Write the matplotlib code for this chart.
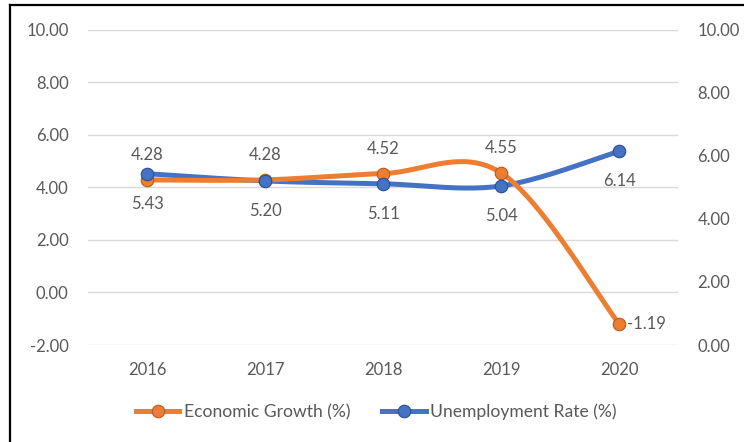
import numpy as np
import matplotlib
matplotlib.use("Agg")
import matplotlib.pyplot as plt
from matplotlib.lines import Line2D

years = ["2016", "2017", "2018", "2019", "2020"]
growth = [4.28, 4.28, 4.52, 4.55, -1.19]
unemployment = [5.43, 5.20, 5.11, 5.04, 6.14]
left_ticks = [-2, 0, 2, 4, 6, 8, 10]
right_ticks = [0, 2, 4, 6, 8, 10]

ORANGE = "#ED7D31"
BLUE = "#4472C4"
GRAY = "#595959"
plt.rcParams["font.family"] = ["Lato", "DejaVu Sans"]


def smooth(xs, ys, n=40):
    xs = np.asarray(xs, float)
    ys = np.asarray(ys, float)
    pts = np.column_stack([xs, ys])
    out = []
    for i in range(len(pts) - 1):
        p0 = pts[i - 1] if i > 0 else pts[i]
        p1 = pts[i]
        p2 = pts[i + 1]
        p3 = pts[i + 2] if i + 2 < len(pts) else pts[i + 1]
        c1 = p1 + (p2 - p0) / 6.0
        c2 = p2 - (p3 - p1) / 6.0
        t = np.linspace(0, 1, n)[:, None]
        seg = ((1 - t) ** 3) * p1 + 3 * ((1 - t) ** 2) * t * c1 + 3 * (1 - t) * t ** 2 * c2 + t ** 3 * p2
        out.append(seg if i == 0 else seg[1:])
    s = np.vstack(out)
    return s[:, 0], s[:, 1]


fig = plt.figure(figsize=(7.44, 4.42), dpi=100)
ax = fig.add_axes([88 / 744, 1 - 345 / 442, (678 - 88) / 744, (345 - 29.5) / 442])
ax2 = ax.twinx()

x = np.arange(len(years))
ax.set_xlim(-0.5, len(years) - 0.5)
ax.set_ylim(-2, 10)
ax2.set_ylim(0, 10)

ax.set_yticks(left_ticks)
ax.set_yticklabels([f"{v:.2f}" for v in left_ticks])
ax2.set_yticks(right_ticks)
ax2.set_yticklabels([f"{v:.2f}" for v in right_ticks])
ax.set_xticks(x)
ax.set_xticklabels(years)

ax.grid(axis="y", color="#D9D9D9", linewidth=1.0)
ax.set_axisbelow(True)
for a in (ax, ax2):
    for s in a.spines.values():
        s.set_visible(False)
ax.tick_params(axis="y", length=0, pad=14, labelsize=12, labelcolor=GRAY)
ax.tick_params(axis="x", length=0, pad=12, labelsize=12, labelcolor=GRAY)
ax2.tick_params(axis="y", length=0, pad=14, labelsize=12, labelcolor=GRAY)

lw = 3.6
ms = 9.0
# lines
bx, by = smooth(x, unemployment)
ax2.plot(bx, by, color=BLUE, lw=lw, solid_capstyle="round", zorder=2)
ox, oy = smooth(x, growth)
ax2.plot(ox, oy, color=ORANGE, lw=lw, solid_capstyle="round", zorder=3, transform=ax.transData)
# markers (orange under blue)
ax2.plot(x, growth, ls="none", marker="o", ms=ms, mfc=ORANGE, mec="#B85A1A", mew=0.8,
         zorder=4, transform=ax.transData)
ax2.plot(x, unemployment, ls="none", marker="o", ms=ms, mfc=BLUE, mec="#2A4E94", mew=0.8, zorder=5)

# data labels
for i, v in enumerate(growth):
    if v < 0:
        ax.annotate(f"{v:.2f}", (x[i], v), xytext=(6, 0), textcoords="offset points",
                    ha="left", va="center", fontsize=12, color=GRAY)
    else:
        ax.annotate(f"{v:.2f}", (x[i], v), xytext=(0, 18), textcoords="offset points",
                    ha="center", va="center", fontsize=12, color=GRAY)
for i, v in enumerate(unemployment):
    ax2.annotate(f"{v:.2f}", (x[i], v), xytext=(0, -21.5), textcoords="offset points",
                 ha="center", va="center", fontsize=12, color=GRAY)

# legend
h1 = Line2D([], [], color=ORANGE, lw=lw, marker="o", ms=ms, mfc=ORANGE, mec="#B85A1A", mew=0.8)
h2 = Line2D([], [], color=BLUE, lw=lw, marker="o", ms=ms, mfc=BLUE, mec="#2A4E94", mew=0.8)
fig.legend([h1, h2], ["Economic Growth (%)", "Unemployment Rate (%)"], loc="center",
           bbox_to_anchor=(376 / 744, 1 - 412 / 442), ncol=2, frameon=False,
           handlelength=2.5, handletextpad=0.25, columnspacing=1.8,
           prop={"size": 12.6}, labelcolor=GRAY)

# outer frame (top and left edges)
fig.add_artist(Line2D([10 / 744, 10 / 744], [0, 1 - 5 / 442], color="black", lw=1.6,
                      transform=fig.transFigure))
fig.add_artist(Line2D([10 / 744, 1], [1 - 5 / 442, 1 - 5 / 442], color="black", lw=1.6,
                      transform=fig.transFigure))

fig.savefig("out.png", dpi=100)
